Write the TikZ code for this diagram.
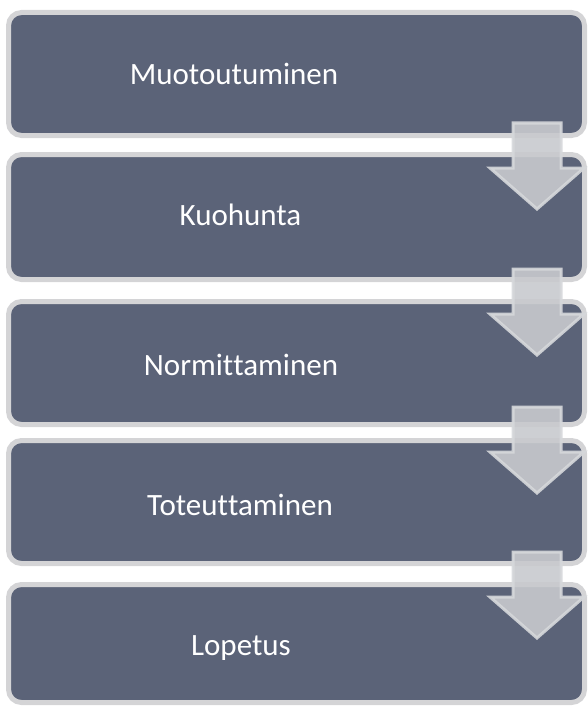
\documentclass[tikz,border=0pt]{standalone}
\usepackage{fontspec}
\setmainfont{Carlito}[Ligatures={NoCommon,NoRequired,NoContextual},Contextuals=NoAlternate]
\definecolor{boxfill}{RGB}{91,99,120}
\definecolor{boxline}{RGB}{212,212,214}
\definecolor{arrfill}{RGB}{200,202,206}
\definecolor{arrline}{RGB}{214,216,219}
\tikzset{
  stage/.style={rectangle, rounded corners=13pt, draw=boxline, line width=5pt, fill=boxfill, minimum width=576pt, inner sep=0pt},
  lbl/.style={anchor=base, text=white, font=\fontsize{31}{37}\selectfont, inner sep=0pt},
  blockarrow/.style={fill=arrfill, draw=arrline, line width=3pt, opacity=0.9, line join=miter}
}
\begin{document}
\begin{tikzpicture}[x=1pt,y=-1pt]
\useasboundingbox (0,0) rectangle (588,706);
\node[stage, minimum height=123pt] (b1) at (296.5,74) {};
\node[stage, minimum height=125pt] (b2) at (296.5,217) {};
\node[stage, minimum height=123pt] (b3) at (296.5,363) {};
\node[stage, minimum height=123pt] (b4) at (296.5,502) {};
\node[stage, minimum height=118pt] (b5) at (296.5,643.5) {};
\node[lbl] (t1) at (234,85) {Muotoutuminen};
\node[lbl] (t2) at (240.5,225) {Kuohunta};
\node[lbl] (t3) at (241,375) {Normit\kern0pt taminen};
\node[lbl] (t4) at (240,515) {Toteut\kern0pt taminen};
\node[lbl] (t5) at (241,655) {Lopetus};
\foreach \t in {123,269,407,552}{
  \draw[blockarrow] (513,\t) -- (561,\t) -- (561,\t+45) -- (584,\t+45) -- (537,\t+86) -- (490,\t+45) -- (513,\t+45) -- cycle;
}
\end{tikzpicture}
\end{document}
